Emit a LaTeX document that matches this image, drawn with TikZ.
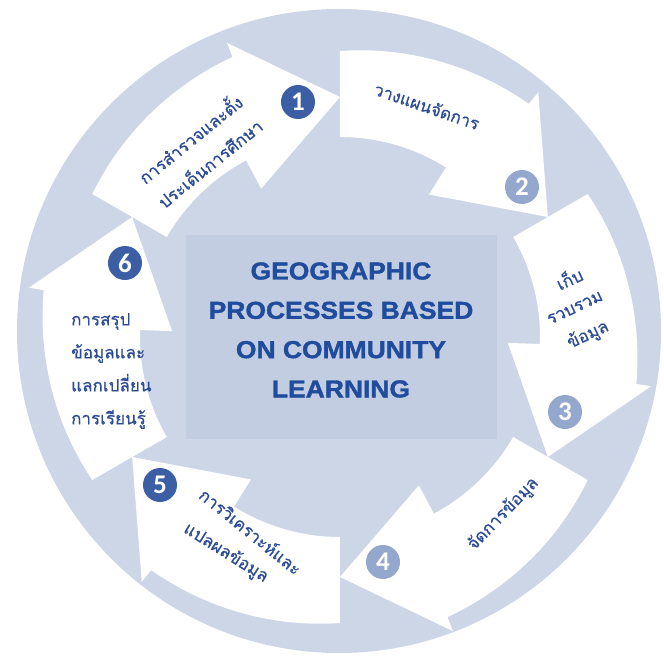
\documentclass[tikz,border=0pt]{standalone}
\usepackage{fontspec}
\usepackage{tikz}
\usetikzlibrary{positioning}
\newfontfamily\thaifont[Script=Thai,FakeBold=0.6]{Loma}
\newfontfamily\titlefont[FakeStretch=1.08,FakeBold=1.5]{Liberation Sans}
\newfontfamily\badgefont{Carlito}
\definecolor{ringblue}{HTML}{CCD6E7}
\definecolor{hubblue}{HTML}{C2CDE2}
\definecolor{badgedark}{HTML}{3C5EA4}
\definecolor{badgelight}{HTML}{94A7CC}
\definecolor{titleblue}{HTML}{1F4C9C}
\definecolor{stepblue}{HTML}{2B4B96}

\begin{document}
\begin{tikzpicture}[x=1pt, y=1pt,
hub/.style={rectangle, fill=hubblue, minimum width=311pt, minimum height=204pt},
title/.style={text=titleblue, font=\titlefont\bfseries\fontsize{24.5}{39.3}\selectfont, align=center},
badge/.style={circle, minimum size=34pt, inner sep=0pt, text=white, font=\badgefont\bfseries\fontsize{27}{27}\selectfont},
darkbadge/.style={badge, fill=badgedark},
lightbadge/.style={badge, fill=badgelight},
steptext/.style={text=stepblue, font=\thaifont\fontsize{17}{31}\selectfont, align=center, inner sep=0pt},
]
\useasboundingbox (-340,-325) rectangle (324,337);
%Background
\fill[ringblue] (-1,6) circle[radius=322pt];
\node[hub] (hub) at (1.5,0) {};
\node[title] (title) at (1,7) {GEOGRAPHIC\\PROCESSES BASED\\ON COMMUNITY\\LEARNING};

%Arrows
\foreach \t in {90,30,-30,-90,-150,-210}
  \fill[white] ({\t+60}:286) -- plot[domain=0:1, samples=20] ({\t+60-39*\x}:{286+14*\x})
    -- ({\t+21}:315) -- (\t:240) -- ({\t+28}:168) -- ({\t+28}:200)
    arc[start angle=\t+28, end angle=\t+60, radius=200pt] -- cycle;

%Badges
\node[darkbadge]  (b1) at (-42,235)  {1};
\node[lightbadge] (b2) at (182,150)  {2};
\node[lightbadge] (b3) at (225,-75)  {3};
\node[lightbadge] (b4) at (43,-225)  {4};
\node[darkbadge]  (b5) at (-180,-148) {5};
\node[darkbadge]  (b6) at (-215,74)  {6};

%Steps
\node[steptext, rotate=39]  (s1)  at (-141,187) {การสำรวจและตั้ง\\ประเด็นการศึกษา};
\node[steptext, rotate=-19] (s2)  at (87,231)   {วางแผนจัดการ};
\node[steptext, rotate=25]  (s3a) at (229,59)   {เก็บ};
\node[steptext, rotate=25]  (s3b) at (235,29)   {รวบรวม};
\node[steptext, rotate=25]  (s3c) at (248,2)    {ข้อมูล};
\node[steptext, rotate=46]  (s4)  at (163,-177) {จัดการข้อมูล};
\node[steptext, rotate=-39] (s5a) at (-89,-194) {การวิเคราะห์และ};
\node[steptext, rotate=-32] (s5b) at (-114,-216) {แปลผลข้อมูล};
\node[steptext, align=left, anchor=west, font=\thaifont\fontsize{17}{33}\selectfont] (s6) at (-269,-34)
  {การสรุป\\ข้อมูลและ\\แลกเปลี่ยน\\การเรียนรู้};
\end{tikzpicture}
\end{document}
